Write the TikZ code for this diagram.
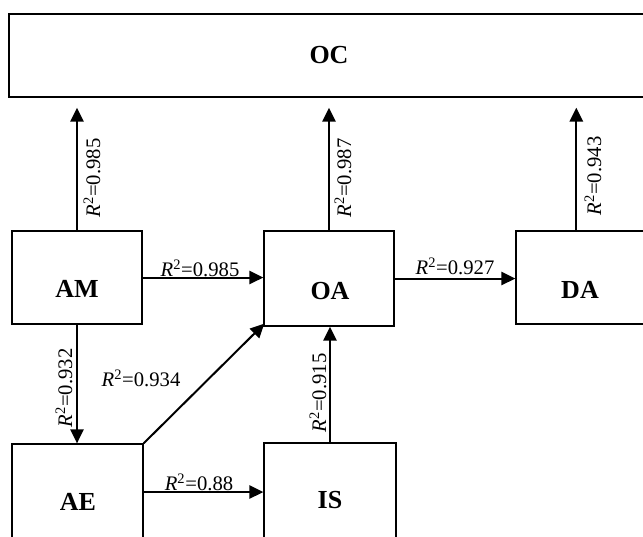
\documentclass[tikz,border=0pt]{standalone}
\usepackage{fontspec}
\setmainfont{Liberation Serif}
\usetikzlibrary{arrows.meta,calc}
\begin{document}
\begin{tikzpicture}[x=0.75pt,y=-0.75pt,
  box/.style={draw=black,line width=1pt,rectangle,inner sep=0pt,fill=none},
  boxtxt/.style={inner sep=0pt,font=\fontsize{19.5}{22}\selectfont\bfseries},
  lbl/.style={inner sep=0pt,font=\fontsize{15.5}{18}\selectfont},
  arr/.style={line width=1.5pt,-{Triangle[length=10.5pt,width=10pt]}},
  toOC/.style={arr,shorten >=7.5pt}]
\useasboundingbox (0,0) rectangle (643,536);
\clip (0,0) rectangle (643,536);
% boxes
\node[box,minimum width=488.25pt,minimum height=62.25pt] (OC) at (334.5,55.5) {};
\node[box,minimum width=97.5pt,minimum height=69.75pt] (AM) at (77,277.5) {};
\node[box,minimum width=97.5pt,minimum height=71.25pt] (OA) at (329,278.5) {};
\node[box,minimum width=108pt,minimum height=69.75pt] (DA) at (588,277.5) {};
\node[box,minimum width=98.25pt,minimum height=72pt] (AE) at (77.5,492) {};
\node[box,minimum width=99pt,minimum height=72.75pt] (IS) at (330,491.5) {};
% box texts
\node[boxtxt] (OCt) at (329,55) {OC};
\node[boxtxt] (AMt) at (77,289) {AM};
\node[boxtxt] (OAt) at (330,291) {OA};
\node[boxtxt] (DAt) at (580,290) {DA};
\node[boxtxt] (AEt) at (78,502) {AE};
\node[boxtxt] (ISt) at (330,500) {IS};
% connectors
\draw[toOC] (AM.north) -- (AM.north |- OC.south);
\draw[toOC] (OA.north) -- (OA.north |- OC.south);
\coordinate (dtop) at ($(DA.north west)+(61,0)$);
\draw[toOC] (dtop) -- (dtop |- OC.south);
\draw[arr] (AM.east) -- (AM.east -| OA.west);
\draw[arr] (OA.east) -- (OA.east -| DA.west);
\draw[arr] (AM.south) -- (AM.south |- AE.north);
\draw[arr] (IS.north) -- (IS.north |- OA.south);
\draw[arr] (AE.east) -- (AE.east -| IS.west);
\coordinate (oaend) at ($(OA.south west)+(1,-3)$);
\draw[arr] (AE.north east) -- (oaend);
% labels
\node[lbl,rotate=90] (l1) at (92,178) {\textit{R}\textsuperscript{2}=0.985};
\node[lbl,rotate=90] (l2) at (343,178) {\textit{R}\textsuperscript{2}=0.987};
\node[lbl,rotate=90] (l3) at (593,176) {\textit{R}\textsuperscript{2}=0.943};
\node[lbl] (l4) at (200,268) {\textit{R}\textsuperscript{2}=0.985};
\node[lbl] (l5) at (455,266) {\textit{R}\textsuperscript{2}=0.927};
\node[lbl,rotate=90] (l6) at (64,388) {\textit{R}\textsuperscript{2}=0.932};
\node[lbl,rotate=90] (l7) at (318,393) {\textit{R}\textsuperscript{2}=0.915};
\node[lbl] (l8) at (141,378) {\textit{R}\textsuperscript{2}=0.934};
\node[lbl] (l9) at (199,482) {\textit{R}\textsuperscript{2}=0.88};
\end{tikzpicture}
\end{document}
